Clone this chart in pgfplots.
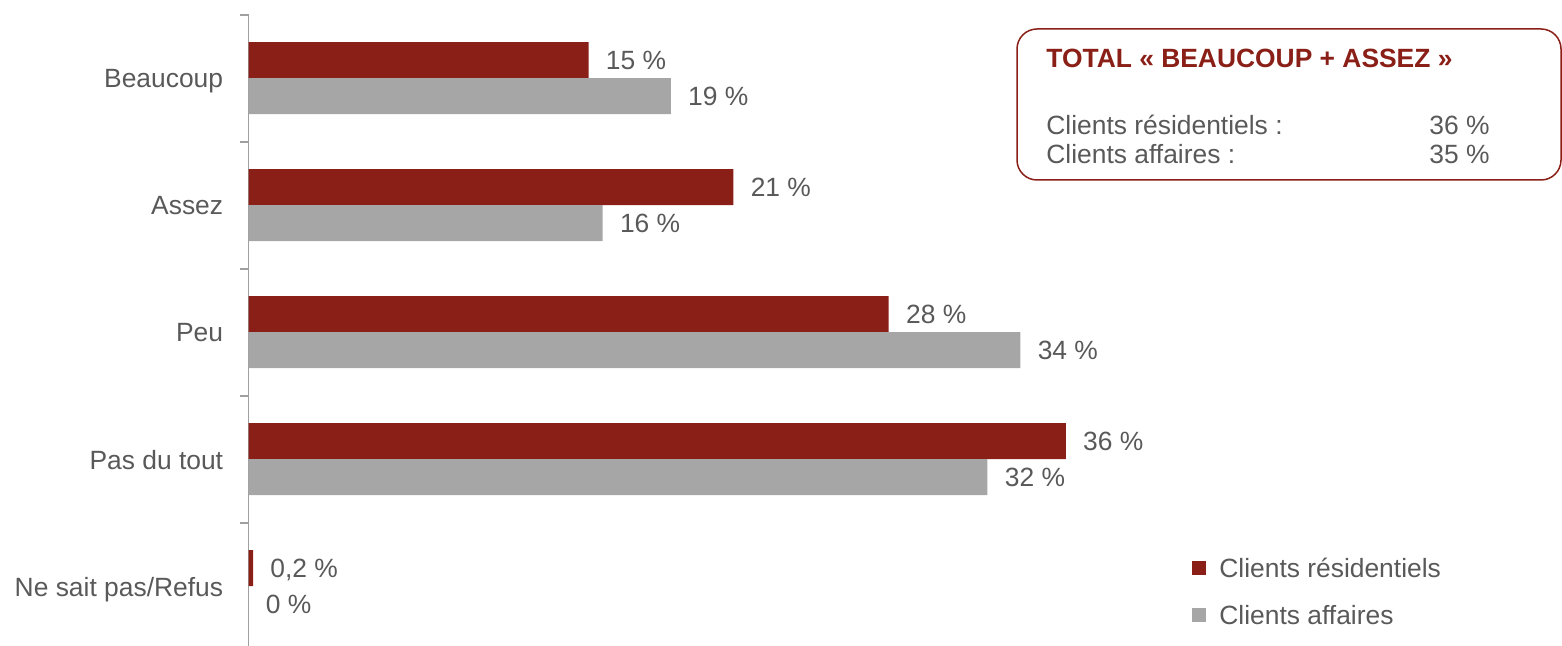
\documentclass[border=0pt]{standalone}
\usepackage{pgfplots}
\pgfplotsset{compat=1.18}
\usepackage{fontspec}
\setmainfont{Liberation Sans}
\definecolor{dred}{HTML}{8A1F17}
\definecolor{bgray}{HTML}{A6A6A6}
\definecolor{tgray}{HTML}{595959}
\definecolor{agray}{HTML}{A0A0A0}
\newcommand{\cf}{\fontsize{13.2}{15.8}\selectfont}
\begin{document}
\begin{tikzpicture}
\useasboundingbox (0pt,0pt) rectangle (781pt,323pt);
\begin{axis}[
  at={(124.25pt,-1.85pt)}, anchor=south west,
  scale only axis, width=656.75pt, height=317.5pt,
  xmin=0, xmax=57.86, ymin=-0.5, ymax=4.5,
  y dir=reverse,
  axis x line=none, axis y line*=left,
  y axis line style={-, color=agray, line width=0.9pt},
  ytick={0,1,2,3,4},
  yticklabels={Beaucoup,Assez,Peu,Pas du tout,Ne sait pas/Refus},
  major tick length=0pt,
  yticklabel style={font=\cf, text=tgray, inner sep=0pt, xshift=-12.5pt, text depth=0pt, yshift=-0.3pt},
  extra y ticks={-0.5,0.5,1.5,2.5,3.5,4.5},
  extra y tick labels={},
  extra y tick style={major tick length=4pt, tick align=outside, tick style={color=agray, line width=0.9pt}},
  xbar, bar width=0.2835,
  clip=false,
  point meta=explicit symbolic,
  nodes near coords={\pgfplotspointmeta},
  nodes near coords style={font=\cf, text=tgray, anchor=west, inner sep=0pt, xshift=8.5pt, text depth=0pt},
  legend style={at={(0.7137,0.1507)}, anchor=north west, draw=none, fill=none,
    font=\cf, text=tgray, nodes={inner sep=0pt}, row sep=12.5pt,
    /tikz/every odd column/.style={column sep=6.5pt}},
  legend cell align=left,
  legend image code/.code={\fill (0pt,-2.75pt) rectangle (7pt,4.25pt);},
]
\addplot[fill=dred, draw=none, bar shift=-0.14175] coordinates {
  (14.98,0) [15~\%]
  (21.36,1) [21~\%]
  (28.2,2) [28~\%]
  (36.0,3) [36~\%]
  (0.2,4) [0,2~\%]
};
\addlegendentry{Clients résidentiels}
\addplot[fill=bgray, draw=none, bar shift=0.14175] coordinates {
  (18.6,0) [19~\%]
  (15.6,1) [16~\%]
  (34.0,2) [34~\%]
  (32.55,3) [32~\%]
  (0,4) [0~\%]
};
\addlegendentry{Clients affaires}
\end{axis}
\draw[dred, line width=0.75pt, rounded corners=10pt] (508.5pt,308.5pt) rectangle (780.5pt,233pt);
\node[anchor=base west, inner sep=0pt, font=\cf\bfseries, text=dred] at (523pt,289.25pt) {TOTAL «~BEAUCOUP + ASSEZ~»};
\node[anchor=base west, inner sep=0pt, font=\cf, text=tgray] at (523pt,255.7pt) {Clients résidentiels :};
\node[anchor=base west, inner sep=0pt, font=\cf, text=tgray] at (523pt,241.2pt) {Clients affaires :};
\node[anchor=base west, inner sep=0pt, font=\cf, text=tgray] at (714.5pt,255.7pt) {36~\%};
\node[anchor=base west, inner sep=0pt, font=\cf, text=tgray] at (714.5pt,241.2pt) {35~\%};
\end{tikzpicture}
\end{document}
